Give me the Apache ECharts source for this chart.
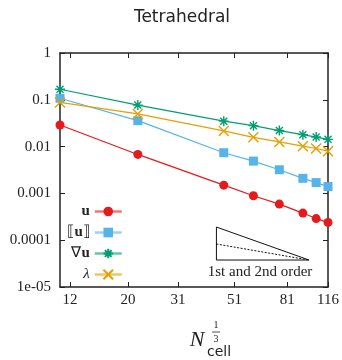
<!DOCTYPE html>
<html>
<head>
<meta charset="utf-8">
<script src="https://cdn.jsdelivr.net/npm/echarts@6/dist/echarts.min.js"></script>
<style>
  html, body { margin: 0; padding: 0; background: #fff; }
  #chart { width: 342px; height: 360px; }
</style>
</head>
<body>
<div id="chart"></div>
<script>
// N_cell^(1/3) for each mesh
const xValues = [11, 21.8, 46.4, 60.2, 75.6, 93, 104.5, 116];

// errors
const errU = [0.029, 0.0068, 0.0015, 0.00089, 0.00059, 0.00038, 0.00029, 0.00024];
const errJump = [0.108, 0.0358, 0.0074, 0.0049, 0.0032, 0.0021, 0.0017, 0.0014];
const errGrad = [0.168, 0.077, 0.035, 0.028, 0.022, 0.018, 0.016, 0.0143];
const errLambda = [0.088, 0.050, 0.0216, 0.0158, 0.0126, 0.0102, 0.0091, 0.0080];

const seriesNames = ['u', '⟦u⟧', '∇u', 'λ'];
const seriesColors = ['#e41a1c', '#56b4e9', '#009e73', '#e69f00'];

const xTickValues = [12, 20, 31, 51, 81, 116];
const yTickLabels = ['1e-05', '0.0001', '0.001', '0.01', '0.1', '1'];

// slope triangle (1st and 2nd order)
const triX = [43.5, 43.5, 98.2, 43.5];
const triY = [1.91e-4, 3.77e-5, 3.77e-5, 1.91e-4];
const firstOrderX = [43.5, 98.2];
const firstOrderY = [8.3e-5, 3.77e-5];

const pair = (xs, ys) => xs.map((x, i) => [x, ys[i]]);

const serif = 'Liberation Serif';
const symbols = [
  'circle',
  'rect',
  'path://M5 0L5 10M0 5L10 5M1.5 1.5L8.5 8.5M8.5 1.5L1.5 8.5',
  'path://M0 0L10 10M10 0L0 10'
];
const symbolSizes = [9, 9, 10, 10];
const errData = [errU, errJump, errGrad, errLambda];
// math-ish legend labels: bold vectors, upright operators, italic lambda
const legendRich = {
  '⟦u⟧': '{n|⟦}{b|u}{n|⟧}',
  '∇u': '{n|∇}{b|u}',
  'λ': '{i|λ}',
  'u': '{b|u}'
};

const chart = echarts.init(document.getElementById('chart'));

const axisLine = { show: true, lineStyle: { color: '#222', width: 1.5 } };

const dataSeries = seriesNames.map((name, i) => ({
  name: name,
  type: 'line',
  data: pair(xValues, errData[i]),
  symbol: symbols[i],
  symbolSize: symbolSizes[i],
  showAllSymbol: true,
  lineStyle: { color: seriesColors[i], width: 1.2 },
  itemStyle: { color: seriesColors[i], borderColor: seriesColors[i], borderWidth: i >= 2 ? 1.4 : 0 },
  emphasis: { disabled: true },
  z: 3
}));

const option = {
  animation: false,
  title: {
    text: 'Tetrahedral',
    left: 177,
    textAlign: 'center',
    top: 4,
    textStyle: { fontFamily: 'DejaVu Sans', fontSize: 17, fontWeight: 'normal', color: '#222' }
  },
  grid: { left: 60, right: 13, top: 53, bottom: 73 },
  legend: {
    data: seriesNames,
    orient: 'vertical',
    right: 214,
    top: 199,
    align: 'right',
    itemWidth: 27,
    itemHeight: 12,
    itemGap: 6,
    lineStyle: { width: 2.5, opacity: 0.6 },
    formatter: name => legendRich[name],
    textStyle: {
      fontFamily: serif, fontSize: 15, color: '#222',
      rich: {
        b: { fontFamily: serif, fontSize: 15, fontWeight: 'bold', color: '#222' },
        n: { fontFamily: serif, fontSize: 15, color: '#222' },
        i: { fontFamily: serif, fontSize: 15, fontStyle: 'italic', color: '#222' }
      }
    },
    selectedMode: false
  },
  xAxis: [{
    type: 'log',
    logBase: 10,
    min: xValues[0],
    max: xValues[xValues.length - 1],
    axisLine: axisLine,
    axisTick: { show: true, inside: true, length: 5, customValues: xTickValues, lineStyle: { color: '#222' } },
    axisLabel: { customValues: xTickValues, fontFamily: serif, fontSize: 15, color: '#222', margin: 6 },
    splitLine: { show: false }
  }, {
    type: 'log',
    logBase: 10,
    position: 'top',
    min: xValues[0],
    max: xValues[xValues.length - 1],
    axisLine: axisLine,
    axisTick: { show: true, inside: true, length: 5, customValues: xTickValues, lineStyle: { color: '#222' } },
    axisLabel: { show: false },
    splitLine: { show: false }
  }],
  yAxis: [{
    type: 'log',
    logBase: 10,
    min: 1e-5,
    max: 1,
    axisLine: axisLine,
    axisTick: { show: true, inside: true, length: 5, lineStyle: { color: '#222' } },
    axisLabel: {
      fontFamily: serif, fontSize: 15, color: '#222', margin: 9,
      formatter: v => yTickLabels[Math.round(Math.log10(v)) + 5]
    },
    minorTick: { show: false },
    splitLine: { show: false }
  }, {
    type: 'log',
    logBase: 10,
    position: 'right',
    min: 1e-5,
    max: 1,
    axisLine: axisLine,
    axisTick: { show: true, inside: true, length: 5, lineStyle: { color: '#222' } },
    axisLabel: { show: false },
    splitLine: { show: false }
  }],
  series: dataSeries.concat([{
    name: 'slope',
    type: 'line',
    data: pair(triX, triY),
    symbol: 'none',
    silent: true,
    lineStyle: { color: '#111', width: 1 },
    z: 2
  }, {
    name: 'slope1',
    type: 'line',
    data: pair(firstOrderX, firstOrderY),
    symbol: 'none',
    silent: true,
    lineStyle: { color: '#111', width: 1, type: [2, 1.5] },
    z: 2
  }]),
  graphic: [
    { type: 'text', x: 260, y: 272, style: { text: '1st and 2nd order', font: '15px "Liberation Serif"', fill: '#222', align: 'center', verticalAlign: 'middle' } },
    { type: 'text', x: 197, y: 340, style: { text: 'N', font: 'italic 22px "Liberation Serif"', fill: '#222', align: 'center', verticalAlign: 'middle' } },
    { type: 'text', x: 219, y: 352, style: { text: 'cell', font: '14px "DejaVu Sans"', fill: '#222', align: 'center', verticalAlign: 'middle' } },
    { type: 'text', x: 216, y: 325, style: { text: '1', font: '10px "Liberation Serif"', fill: '#222', align: 'center', verticalAlign: 'middle' } },
    { type: 'line', shape: { x1: 212, y1: 332, x2: 220, y2: 332 }, style: { stroke: '#222', lineWidth: 0.8 } },
    { type: 'text', x: 216, y: 339, style: { text: '3', font: '10px "Liberation Serif"', fill: '#222', align: 'center', verticalAlign: 'middle' } }
  ]
};

chart.setOption(option);
</script>
</body>
</html>
